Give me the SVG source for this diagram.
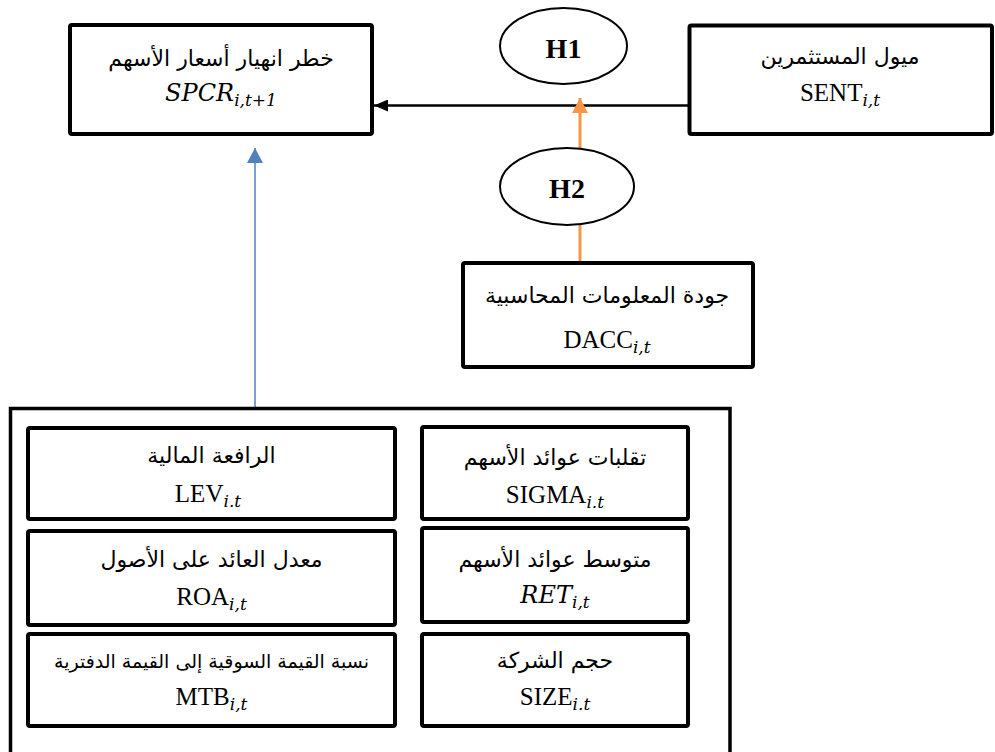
<svg xmlns="http://www.w3.org/2000/svg" width="995" height="752" viewBox="0 0 995 752">
<style>
.box{fill:#fff;stroke:#000;stroke-width:4;}
.big{fill:#fff;stroke:#000;stroke-width:3.5;}
.ell{fill:#fff;stroke:#000;stroke-width:2;}
.ar{font-family:"DejaVu Sans",sans-serif;font-size:22px;fill:#000;text-anchor:middle;direction:rtl;}
.ars{font-family:"DejaVu Sans",sans-serif;font-size:19px;fill:#000;text-anchor:middle;direction:rtl;}
.la{font-family:"Liberation Serif",serif;font-size:25px;fill:#000;text-anchor:middle;}
.it{font-family:"DejaVu Serif",serif;font-style:italic;font-size:24px;}
.sub{font-family:"DejaVu Serif",serif;font-style:italic;font-size:17px;}
.hy{font-family:"Liberation Serif",serif;font-size:28px;font-weight:bold;fill:#000;text-anchor:middle;}
</style>
<defs>
<marker id="ab" markerUnits="userSpaceOnUse" markerWidth="14" markerHeight="12" refX="14" refY="6" orient="auto"><path d="M0,0 L14,6 L0,12 Z" fill="#000"/></marker>
<marker id="ao" markerUnits="userSpaceOnUse" markerWidth="15" markerHeight="16" refX="15" refY="8" orient="auto"><path d="M0,0 L15,8 L0,16 Z" fill="#F79646"/></marker>
<marker id="abl" markerUnits="userSpaceOnUse" markerWidth="15" markerHeight="16" refX="15" refY="8" orient="auto"><path d="M0,0 L15,8 L0,16 Z" fill="#4F81BD"/></marker>
</defs>

<g id="connectors">
<line x1="688" y1="105.5" x2="374" y2="105.5" stroke="#000" stroke-width="2.5" marker-end="url(#ab)"/>
<line x1="580" y1="262" x2="580" y2="98" stroke="#F79646" stroke-width="3" marker-end="url(#ao)"/>
<line x1="255" y1="408" x2="255" y2="148" stroke="#4F81BD" stroke-width="1.5" marker-end="url(#abl)"/>
</g>

<g id="spcr">
<rect class="box" x="70" y="25" width="302" height="109" rx="2"/>
<text class="ar" x="221" y="66">خطر انهيار أسعار الأسهم</text>
<text class="la" x="221" y="101"><tspan class="it">SPCR</tspan><tspan class="sub" dy="5">i,t+1</tspan></text>
</g>

<g id="h1">
<ellipse class="ell" cx="563.5" cy="46" rx="63.5" ry="38"/>
<text class="hy" x="563.5" y="58">H1</text>
</g>

<g id="sent">
<rect class="box" x="689.5" y="25.5" width="302.5" height="108.5" rx="2"/>
<text class="ar" x="840" y="64">ميول المستثمرين</text>
<text class="la" x="840" y="101">SENT<tspan class="sub" dy="5">i,t</tspan></text>
</g>

<g id="h2">
<ellipse class="ell" cx="567" cy="186.5" rx="67" ry="38.5"/>
<text class="hy" x="567" y="198">H2</text>
</g>

<g id="dacc">
<rect class="box" x="463" y="263" width="290" height="104" rx="2"/>
<text class="ar" x="607" y="303">جودة المعلومات المحاسبية</text>
<text class="la" x="607" y="348">DACC<tspan class="sub" dy="5">i,t</tspan></text>
</g>

<g id="controls">
<rect class="big" x="10.5" y="408.5" width="719.5" height="360"/>
</g>

<g id="lev">
<rect class="box" x="28" y="428" width="367" height="91" rx="2"/>
<text class="ar" x="211.5" y="463">الرافعة المالية</text>
<text class="la" x="208" y="502">LEV<tspan class="sub" dy="5">i.t</tspan></text>
</g>

<g id="roa">
<rect class="box" x="28" y="531" width="367" height="94" rx="2"/>
<text class="ar" x="211.5" y="567">معدل العائد على الأصول</text>
<text class="la" x="211.5" y="605">ROA<tspan class="sub" dy="5">i,t</tspan></text>
</g>

<g id="mtb">
<rect class="box" x="28" y="634" width="367" height="92" rx="2"/>
<text class="ars" x="211.5" y="668">نسبة القيمة السوقية إلى القيمة الدفترية</text>
<text class="la" x="211.5" y="705">MTB<tspan class="sub" dy="5">i,t</tspan></text>
</g>

<g id="sigma">
<rect class="box" x="422" y="427" width="266" height="92" rx="2"/>
<text class="ar" x="555" y="465">تقلبات عوائد الأسهم</text>
<text class="la" x="555" y="503">SIGMA<tspan class="sub" dy="5">i.t</tspan></text>
</g>

<g id="ret">
<rect class="box" x="422" y="528" width="266" height="94" rx="2"/>
<text class="ar" x="555" y="567">متوسط عوائد الأسهم</text>
<text class="la" x="555" y="603"><tspan class="it">RET</tspan><tspan class="sub" dy="5">i,t</tspan></text>
</g>

<g id="size">
<rect class="box" x="422" y="634" width="266" height="92" rx="2"/>
<text class="ar" x="555" y="668">حجم الشركة</text>
<text class="la" x="555" y="705">SIZE<tspan class="sub" dy="5">i.t</tspan></text>
</g>
</svg>
